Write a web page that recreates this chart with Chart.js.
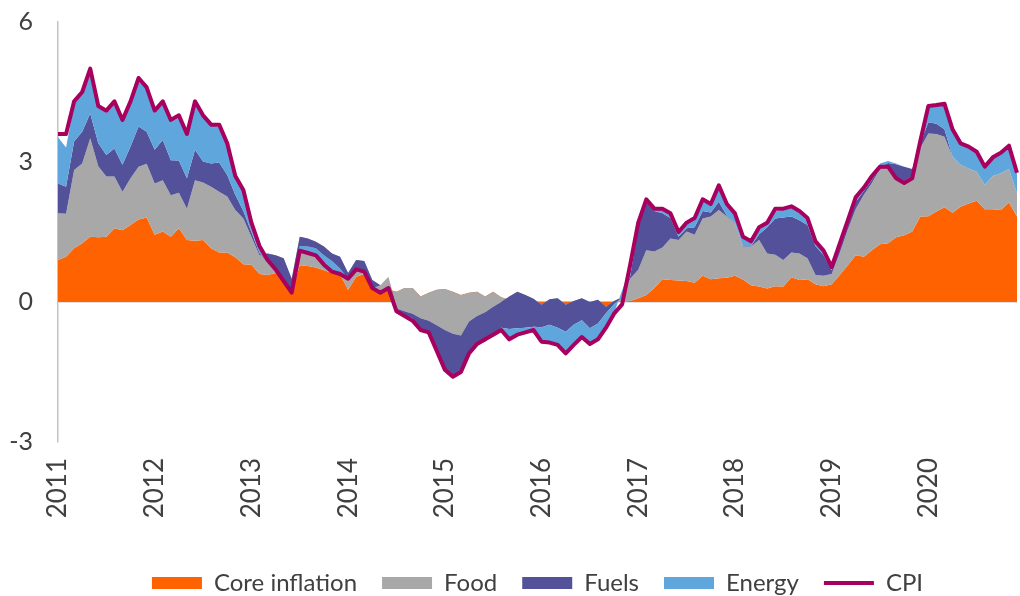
<!DOCTYPE html>
<html>
<head>
<meta charset="utf-8">
<script src="https://cdn.jsdelivr.net/npm/chart.js@4.4.0/dist/chart.umd.min.js"></script>
<style>
  html, body { margin: 0; padding: 0; background: #fff; }
  canvas { display: block; }
</style>
</head>
<body>
<canvas id="chart" width="1020" height="596"></canvas>
<script>
// contributions to CPI y/y, pp, monthly Jan 2011 - Dec 2020
const years = [2011, 2012, 2013, 2014, 2015, 2016, 2017, 2018, 2019, 2020];

const core = [
  0.9, 0.97, 1.15, 1.26, 1.4, 1.39, 1.4, 1.58, 1.54, 1.65, 1.77, 1.81,
  1.44, 1.51, 1.4, 1.58, 1.33, 1.31, 1.33, 1.15, 1.06, 1.06, 0.96, 0.81,
  0.8, 0.6, 0.58, 0.62, 0.5, 0.22, 0.79, 0.77, 0.74, 0.68, 0.62, 0.6,
  0.26, 0.54, 0.6, 0.3, 0.22, 0.27, 0.22, 0.3, 0.3, 0.12, 0.2, 0.26,
  0.28, 0.22, 0.15, 0.2, 0.22, 0.12, 0.22, 0.1, 0.05, 0.1, 0.05, 0,
  -0.06, 0, 0, -0.06, 0, 0, 0, 0, -0.1, 0, 0, 0.02,
  0.08, 0.15, 0.3, 0.49, 0.47, 0.46, 0.45, 0.41, 0.56, 0.49, 0.51, 0.52,
  0.56, 0.48, 0.36, 0.33, 0.29, 0.34, 0.33, 0.53, 0.47, 0.49, 0.38, 0.34,
  0.38, 0.58, 0.79, 1.0, 0.97, 1.11, 1.24, 1.26, 1.39, 1.43, 1.51, 1.83,
  1.84, 1.94, 2.03, 1.91, 2.04, 2.11, 2.17, 1.99, 1.99, 1.97, 2.13, 1.83
];

const food = [
  1.0, 0.92, 1.68, 1.71, 2.11, 1.52, 1.29, 1.11, 0.82, 1.0, 1.13, 1.15,
  1.1, 1.1, 0.89, 0.76, 0.67, 1.3, 1.23, 1.32, 1.3, 1.2, 1.01, 0.98,
  0.6, 0.4, 0.46, 0.38, 0.44, 0.28, 0.61, 0.59, 0.55, 0.51, 0.42, 0.37,
  0.36, 0.36, 0.28, 0.17, 0.14, 0.27, -0.36, -0.5, -0.55, -0.47, -0.6, -0.76,
  -0.88, -0.9, -0.87, -0.62, -0.52, -0.34, -0.32, -0.1, 0.07, 0.12, 0.1, 0.07,
  0, 0.06, 0.08, 0, 0.02, 0.08, 0, 0.05, 0, 0.02, 0.1, 0.48,
  0.61, 0.96, 0.78, 0.68, 0.89, 0.87, 1.06, 1.03, 1.23, 1.34, 1.46, 1.31,
  1.13, 0.71, 0.83, 1.0, 0.75, 0.67, 0.57, 0.53, 0.57, 0.45, 0.2, 0.22,
  0.22, 0.47, 0.76, 1.0, 1.33, 1.44, 1.62, 1.6, 1.29, 1.17, 1.19, 1.47,
  1.77, 1.66, 1.51, 1.2, 0.9, 0.75, 0.62, 0.52, 0.71, 0.79, 0.72, 0.5
];

const fuels = [
  0.64, 0.58, 0.61, 0.68, 0.53, 0.49, 0.46, 0.6, 0.58, 0.68, 0.86, 0.69,
  0.72, 0.86, 0.75, 0.69, 0.65, 0.65, 0.45, 0.5, 0.63, 0.46, 0.33, 0.16,
  0.1, 0.05, -0.18, -0.3, -0.49, -0.3, -0.2, -0.17, -0.14, -0.19, -0.16, -0.25,
  -0.12, -0.18, -0.22, -0.17, 0, 0, -0.06, -0.08, -0.1, -0.25, -0.25, -0.5,
  -0.85, -0.94, -0.78, -0.68, -0.62, -0.63, -0.62, -0.55, -0.7, -0.78, -0.7, -0.6,
  -0.48, -0.55, -0.63, -0.58, -0.51, -0.47, -0.56, -0.51, -0.14, -0.07, 0, 0.05,
  0.91, 1.08, 0.87, 0.73, 0.44, 0.07, 0.07, 0.16, 0.16, 0.09, 0.18, 0.02,
  0.01, 0.01, 0.01, 0.12, 0.56, 0.78, 0.91, 0.77, 0.71, 0.71, 0.62, 0.44,
  0.08, 0.1, 0.1, 0.15, 0.08, 0.07, 0.04, 0.12, 0.27, 0.3, 0.15, 0.1,
  0.24, 0.22, 0.16, 0, 0, 0, 0, 0, 0, 0, 0, 0
];

const energy = [
  0.99, 0.84, 0.81, 0.8, 0.91, 0.8, 0.9, 0.96, 0.91, 0.97, 0.99, 0.9,
  0.79, 0.78, 0.81, 0.92, 0.9, 0.99, 0.94, 0.83, 0.76, 0.63, 0.35, 0.4,
  0.15, 0.1, 0, 0, 0, 0, -0.12, -0.14, -0.15, -0.2, -0.22, -0.1,
  -0.03, -0.02, -0.01, 0, 0, 0, -0.01, 0, -0.03, 0, -0.01, 0,
  0, 0, 0, 0, 0, 0, 0, -0.05, -0.22, -0.14, -0.09, -0.07,
  -0.31, -0.38, -0.37, -0.46, -0.43, -0.35, -0.34, -0.35, -0.32, -0.19, 0.15, 0.15,
  0.05, 0.01, 0.09, 0.1, 0.08, 0.1, 0.07, 0.16, 0.2, 0.18, 0.3, 0.2,
  0.17, 0.18, 0.12, 0.1, 0.08, 0.16, 0.16, 0.22, 0.15, 0.09, 0.06, 0.08,
  0.04, 0.05, 0.05, 0.05, 0.04, 0.06, 0.07, 0.04, 0.02, 0, 0, 0.05,
  0.33, 0.38, 0.5, 0.54, 0.44, 0.44, 0.39, 0.37, 0.38, 0.39, 0.45, 0.42
];

const cpi = [
  3.6, 3.6, 4.3, 4.5, 5.0, 4.2, 4.1, 4.3, 3.9, 4.3, 4.8, 4.6,
  4.1, 4.3, 3.9, 4.0, 3.6, 4.3, 4.0, 3.8, 3.8, 3.4, 2.7, 2.4,
  1.7, 1.2, 0.9, 0.7, 0.45, 0.2, 1.1, 1.05, 1.0, 0.8, 0.65, 0.6,
  0.5, 0.7, 0.65, 0.3, 0.2, 0.3, -0.2, -0.3, -0.4, -0.6, -0.65, -1.05,
  -1.45, -1.6, -1.5, -1.1, -0.9, -0.8, -0.7, -0.6, -0.8, -0.7, -0.65, -0.6,
  -0.85, -0.87, -0.92, -1.1, -0.92, -0.75, -0.9, -0.8, -0.55, -0.25, -0.05, 0.8,
  1.7, 2.2, 2.0, 2.0, 1.9, 1.5, 1.7, 1.8, 2.2, 2.1, 2.5, 2.1,
  1.9, 1.4, 1.3, 1.6, 1.7, 2.0, 2.0, 2.05, 1.95, 1.8, 1.3, 1.1,
  0.75, 1.25, 1.75, 2.25, 2.45, 2.7, 2.9, 2.9, 2.65, 2.55, 2.65, 3.45,
  4.2, 4.22, 4.25, 3.7, 3.4, 3.33, 3.22, 2.9, 3.1, 3.2, 3.35, 2.77
];

const months = [];
years.forEach((y) => {
  for (let m = 1; m <= 12; m++) months.push(y + "-" + String(m).padStart(2, "0"));
});

// plain running sum like a spreadsheet stacked area (no splitting by sign)
function stackUp(series) {
  let running = series[0].map(() => 0);
  return series.map((s) => (running = running.map((v, i) => v + s[i])));
}
const [coreTop, foodTop, fuelsTop, energyTop] = stackUp([core, food, fuels, energy]);

const FONT = "Lato";
const TEXT = "#404040";
const AXIS = "#c3c3c3";

function areaSet(label, data, color, fill, order) {
  return {
    label: label,
    data: data,
    backgroundColor: color,
    borderColor: "transparent",
    borderWidth: 0,
    fill: fill,
    order: order,
    pointRadius: 0,
    pointStyle: "rect",
    pointBorderWidth: 0,
    tension: 0,
  };
}

new Chart(document.getElementById("chart"), {
  type: "line",
  data: {
    labels: months,
    datasets: [
      areaSet("Core inflation", coreTop, "#ff6200", "origin", 5),
      areaSet("Food", foodTop, "#a8a8a8", "-1", 4),
      areaSet("Fuels", fuelsTop, "#525199", "-1", 3),
      areaSet("Energy", energyTop, "#5fa6dc", "-1", 2),
      {
        label: "CPI",
        data: cpi,
        borderColor: "#a8005f",
        backgroundColor: "#a8005f",
        borderWidth: 4,
        borderJoinStyle: "round",
        fill: false,
        order: 1,
        pointRadius: 0,
        pointStyle: "line",
        pointBorderWidth: 4,
        tension: 0,
      },
    ],
  },
  options: {
    responsive: false,
    animation: false,
    events: [],
    layout: { padding: { top: 22, right: 3, left: 0, bottom: 0 } },
    scales: {
      x: {
        grid: { display: false, drawTicks: false },
        border: { display: false },
        ticks: {
          autoSkip: false,
          maxRotation: 90,
          minRotation: 90,
          padding: 16,
          color: TEXT,
          font: { family: FONT, size: 26 },
          callback: (v, i) => (i % 12 === 0 ? months[i].slice(0, 4) : ""),
        },
        afterFit: (s) => {
          s.height = 104;
          s.paddingLeft = 0;
          s.paddingRight = 0;
        },
      },
      y: {
        min: -3,
        max: 6,
        z: 1,
        ticks: { stepSize: 3, padding: 25, color: TEXT, font: { family: FONT, size: 25 } },
        grid: {
          drawTicks: false,
          lineWidth: 1.5,
          color: (c) => (c.tick && c.tick.value === 0 ? AXIS : "transparent"),
        },
        border: { display: true, color: AXIS, width: 1.5 },
        afterFit: (s) => {
          s.width = 58;
          s.paddingTop = 0;
          s.paddingBottom = 0;
        },
      },
    },
    plugins: {
      tooltip: { enabled: false },
      legend: {
        position: "bottom",
        fullSize: false,
        maxHeight: 50,
        labels: {
          usePointStyle: true,
          pointStyleWidth: 50,
          boxHeight: 12,
          padding: 25,
          color: TEXT,
          font: { family: FONT, size: 24 },
          sort: (a, b) => a.datasetIndex - b.datasetIndex,
        },
      },
    },
  },
});
</script>
</body>
</html>
